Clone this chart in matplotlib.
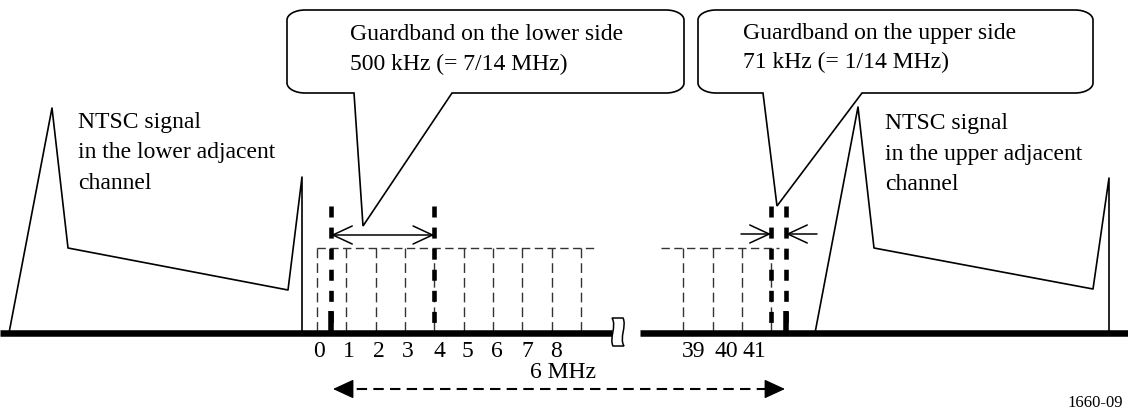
import matplotlib.pyplot as plt
from matplotlib.path import Path
from matplotlib.patches import PathPatch, FancyArrowPatch

plt.rcParams['font.family'] = ['Liberation Serif', 'DejaVu Serif']

# everything is laid out in picture pixels (x right, y down)
W, H = 1128, 419

# frequency axis (broken between subcarrier 8 and 39)
base_y = 333
base_left = [0, 612]
base_right = [640, 1128]

# NTSC spectra of the adjacent channels
lower_sig_x = [9, 52, 68, 288, 302, 302]
lower_sig_y = [333, 108, 248, 290, 177, 333]
upper_sig_x = [815, 858, 874, 1093, 1109, 1109]
upper_sig_y = [333, 107, 248, 289, 178, 333]

# OFDM segments (dashed grid)
seg_lo_x = [316.7, 346, 375.5, 405, 434.3, 463.5, 493, 522.3, 551.7, 581]
seg_hi_x = [683, 713, 742, 771]
seg_top = 248
seg_lo_span = [316.7, 595]
seg_hi_span = [661, 779]

tick_lo = ['0', '1', '2', '3', '4', '5', '6', '7', '8']
tick_lo_x = [319, 349, 379, 408, 439, 467, 497, 527, 556]
tick_hi = ['39', '40', '41']
tick_hi_x = [694, 726, 754]
tick_y = 357

# guardband edges and carriers
guard_x = [331, 434.3, 771, 786]
guard_top = 206
carrier_x = [331, 786]
carrier_top = 311

# callouts: box (x0, x1, y0, y1), pointer base right, tip, base left
box_lo = (287, 684, 10, 93)
ptr_lo = [(452, 93), (363, 226), (354, 93)]
box_hi = (698, 1093, 10, 93)
ptr_hi = [(862, 93), (777, 206), (763, 93)]

text_lo = ['Guardband on the lower side', '500 kHz (= 7/14 MHz)']
text_hi = ['Guardband on the upper side', '71 kHz (= 1/14 MHz)']
text_lo_pos = (350, [40, 70])
text_hi_pos = (743, [39, 68])

ntsc_lo = ['NTSC signal', 'in the lower adjacent', 'channel']
ntsc_hi = ['NTSC signal', 'in the upper adjacent', 'channel']
ntsc_lo_pos = (78, [128, 158, 189])
ntsc_hi_pos = (885, [129, 160, 190])

fs = 17

fig = plt.figure(figsize=(W / 100, H / 100), dpi=100)
ax = fig.add_axes([0, 0, 1, 1])
ax.set_xlim(0, W)
ax.set_ylim(H, 0)
ax.axis('off')

# dashed segment grid
ax.plot(seg_lo_span, [seg_top, seg_top], color='#333333', lw=1.0, ls=(0, (6, 3.2)))
ax.plot(seg_hi_span, [seg_top, seg_top], color='#333333', lw=1.0, ls=(0, (6, 3.2)))
for x in seg_lo_x + seg_hi_x:
    ax.plot([x, x], [seg_top, base_y], color='#333333', lw=1.0, ls=(0, (7, 3.6)))

# thick guardband edges
for x in guard_x:
    ax.plot([x, x], [guard_top, base_y], color='black', lw=3.3, ls=(0, (2.4, 2.2)))
for x in carrier_x:
    ax.plot([x, x], [carrier_top, base_y], color='black', lw=4.0, solid_capstyle='butt')

# adjacent channel signals
ax.plot(lower_sig_x, lower_sig_y, color='black', lw=1.2)
ax.plot(upper_sig_x, upper_sig_y, color='black', lw=1.2)

# axis
ax.plot(base_left, [base_y, base_y], color='black', lw=4.7, solid_capstyle='butt')
ax.plot(base_right, [base_y, base_y], color='black', lw=4.7, solid_capstyle='butt')

# break mark
brk = Path([(612, 318), (623, 318),
            (627, 326), (619, 338), (624, 346),
            (613, 346),
            (609, 338), (617, 326), (612, 318),
            (612, 318)],
           [Path.MOVETO, Path.LINETO,
            Path.CURVE4, Path.CURVE4, Path.CURVE4,
            Path.LINETO,
            Path.CURVE4, Path.CURVE4, Path.CURVE4,
            Path.CLOSEPOLY])
ax.add_patch(PathPatch(brk, facecolor='white', edgecolor='black', lw=1.1, zorder=5))

for lab, x in zip(tick_lo, tick_lo_x):
    ax.text(x, tick_y, lab, fontsize=fs, ha='center', va='baseline')
for lab, x in zip(tick_hi, tick_hi_x):
    ax.text(x, tick_y, lab, fontsize=fs, ha='center', va='baseline')


def callout(box, ptr):
    x0, x1, y0, y1 = box
    rx, ry = 18, 10
    k = 0.552
    verts = [ptr[2], (x0 + rx, y1),
             (x0 + rx * (1 - k), y1), (x0, y1 - ry * (1 - k)), (x0, y1 - ry),
             (x0, y0 + ry),
             (x0, y0 + ry * (1 - k)), (x0 + rx * (1 - k), y0), (x0 + rx, y0),
             (x1 - rx, y0),
             (x1 - rx * (1 - k), y0), (x1, y0 + ry * (1 - k)), (x1, y0 + ry),
             (x1, y1 - ry),
             (x1, y1 - ry * (1 - k)), (x1 - rx * (1 - k), y1), (x1 - rx, y1),
             ptr[0], ptr[1], ptr[2]]
    codes = [Path.MOVETO, Path.LINETO,
             Path.CURVE4, Path.CURVE4, Path.CURVE4,
             Path.LINETO,
             Path.CURVE4, Path.CURVE4, Path.CURVE4,
             Path.LINETO,
             Path.CURVE4, Path.CURVE4, Path.CURVE4,
             Path.LINETO,
             Path.CURVE4, Path.CURVE4, Path.CURVE4,
             Path.LINETO, Path.LINETO, Path.CLOSEPOLY]
    ax.add_patch(PathPatch(Path(verts, codes), facecolor='white',
                           edgecolor='black', lw=1.2, zorder=4))


callout(box_lo, ptr_lo)
callout(box_hi, ptr_hi)

for line, y in zip(text_lo, text_lo_pos[1]):
    ax.text(text_lo_pos[0], y, line, fontsize=fs, va='baseline', zorder=6)
for line, y in zip(text_hi, text_hi_pos[1]):
    ax.text(text_hi_pos[0], y, line, fontsize=fs, va='baseline', zorder=6)
for line, y in zip(ntsc_lo, ntsc_lo_pos[1]):
    ax.text(ntsc_lo_pos[0], y, line, fontsize=fs, va='baseline')
for line, y in zip(ntsc_hi, ntsc_hi_pos[1]):
    ax.text(ntsc_hi_pos[0], y, line, fontsize=fs, va='baseline')

# guardband arrows
arr = dict(arrowstyle='->,head_length=14,head_width=6.5', color='black',
           lw=1.1, shrinkA=0, shrinkB=0, mutation_scale=1)
ax.add_patch(FancyArrowPatch((331, 235), (434.3, 235),
                             arrowstyle='<->,head_length=14,head_width=6.5',
                             color='black', lw=1.1, shrinkA=0, shrinkB=0, mutation_scale=1))
ax.add_patch(FancyArrowPatch((741, 234), (771, 234), **arr))
ax.add_patch(FancyArrowPatch((817, 234), (786, 234), **arr))

# 6 MHz channel width
span_y = 389
span_x = [340, 778]
ax.plot(span_x, [span_y, span_y], color='black', lw=1.5, ls=(0, (5, 3)))
head = dict(arrowstyle='-|>,head_length=13,head_width=6', color='black',
            lw=1.0, shrinkA=0, shrinkB=0, mutation_scale=1)
ax.add_patch(FancyArrowPatch((350, span_y), (333, span_y), **head))
ax.add_patch(FancyArrowPatch((768, span_y), (785, span_y), **head))
ax.text(563, 378, '6 MHz', fontsize=fs, ha='center', va='baseline')

ax.text(1067, 407, '1660-09', fontsize=12, va='baseline')

fig.savefig('out.png', dpi=100)
